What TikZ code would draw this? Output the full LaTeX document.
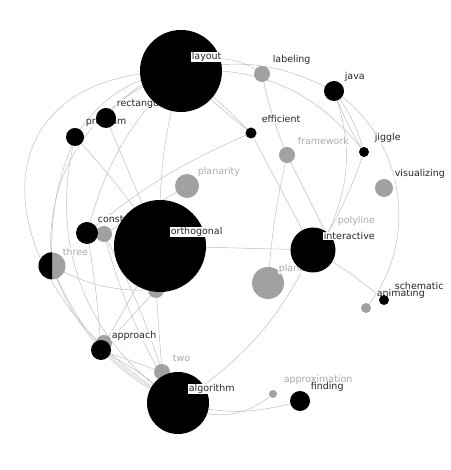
\documentclass[tikz,border=0pt]{standalone}
\usepackage{fontspec}
\setmainfont{DejaVu Sans}
\begin{document}
\begin{tikzpicture}[x=1pt,y=1pt,
  edge/.style={draw=black!25, line width=0.5pt},
  blk/.style={circle, fill=black, inner sep=0pt},
  gry/.style={circle, fill=black!37, inner sep=0pt},
  lbl/.style={anchor=west, fill=white, inner sep=0.6pt, text=black!85, font=\fontsize{9.5}{11}\selectfont},
  lbg/.style={lbl, text=black!33}]
\useasboundingbox (0,0) rectangle (450,470);

% centres
\coordinate (layout) at (181,399);
\coordinate (labeling) at (262,396);
\coordinate (java) at (334,379);
\coordinate (efficient) at (251,337);
\coordinate (jiggle) at (364,318);
\coordinate (framework) at (287,315);
\coordinate (visualizing) at (384,282);
\coordinate (planarity) at (187,284);
\coordinate (rectangular) at (106,352);
\coordinate (program) at (75,333);
\coordinate (constraint) at (87,237);
\coordinate (hid1) at (104,236);
\coordinate (three) at (52,204);
\coordinate (orthogonal) at (160,224);
\coordinate (hid2) at (156,180);
\coordinate (interactive) at (313,220);
\coordinate (polyline) at (327,235);
\coordinate (planar) at (268,187);
\coordinate (hid3) at (104,127);
\coordinate (approach) at (101,120);
\coordinate (two) at (162,98);
\coordinate (algorithm) at (178,67);
\coordinate (approximation) at (273,76);
\coordinate (finding) at (300,69);
\coordinate (schematic) at (384,170);
\coordinate (animating) at (366,162);

% edges
\draw[edge] (layout) to[bend left=35] (labeling);
\draw[edge] (layout) to[bend left=20] (java);
\draw[edge] (layout) to[bend left=28] (jiggle);
\draw[edge] (layout) to[bend left=4] (efficient);
\draw[edge] (layout) to[bend right=3] (efficient);
\draw[edge] (labeling) to[bend right=5] (framework);
\draw[edge] (java) to[bend left=10] (jiggle);
\draw[edge] (java) to[bend right=6] (jiggle);
\draw[edge] (java) to[bend left=22] (polyline);
\draw[edge] (java) to[bend left=48] (animating);
\draw[edge] (jiggle) to[bend left=5] (polyline);
\draw[edge] (framework) -- (polyline);
\draw[edge] (framework) to[bend right=4] (planar);
\draw[edge] (efficient) -- (interactive);
\draw[edge] (efficient) to[bend right=8] (constraint);
\draw[edge] (planarity) -- (hid1);
\draw[edge] (orthogonal) -- (interactive);
\draw[edge] (interactive) to[bend left=5] (schematic);
\draw[edge] (interactive) to[bend left=15] (algorithm);
\draw[edge] (algorithm) to[bend right=35] (approximation);
\draw[edge] (algorithm) to[bend right=15] (finding);
\draw[edge] (layout) to[bend right=20] (rectangular);
\draw[edge] (layout) to[bend right=25] (program);
\draw[edge] (layout) to[bend right=40] (three);
\draw[edge] (layout) to[out=180,in=150,looseness=1.7] (algorithm);
\draw[edge] (layout) to[bend right=15] (constraint);
\draw[edge] (layout) to[bend right=8] (orthogonal);
\draw[edge] (program) to[bend right=35] (algorithm);
\draw[edge] (program) to[bend right=12] (three);
\draw[edge] (program) to[bend left=5] (orthogonal);
\draw[edge] (rectangular) -- (orthogonal);
\draw[edge] (three) to[bend right=20] (algorithm);
\draw[edge] (three) to[bend right=10] (approach);
\draw[edge] (three) to[bend right=15] (hid2);
\draw[edge] (constraint) to[bend left=3] (approach);
\draw[edge] (hid1) to[bend right=8] (algorithm);
\draw[edge] (hid1) to[bend left=5] (two);
\draw[edge] (hid2) -- (approach);
\draw[edge] (hid2) -- (two);
\draw[edge] (orthogonal) -- (approach);
\draw[edge] (approach) to[bend right=10] (algorithm);
\draw[edge] (approach) to[bend left=6] (algorithm);
\draw[edge] (approach) -- (two);

% terms
\node[blk, minimum size=18] (program dot) at (program) {};
\node[lbl] (program txt) at ([shift={(10,14)}]program) {program};
\node[blk, minimum size=20] (rectangular dot) at (rectangular) {};
\node[lbl] (rectangular txt) at ([shift={(10,14)}]rectangular) {rectangular};
\node[blk, minimum size=82] (layout dot) at (layout) {};
\node[lbl] (layout txt) at ([shift={(10,14)}]layout) {layout};
\node[gry, minimum size=16] (labeling dot) at (labeling) {};
\node[lbl] (labeling txt) at ([shift={(10,14)}]labeling) {labeling};
\node[blk, minimum size=20] (java dot) at (java) {};
\node[lbl] (java txt) at ([shift={(10,14)}]java) {java};
\node[blk, minimum size=11] (efficient dot) at (efficient) {};
\node[lbl] (efficient txt) at ([shift={(10,14)}]efficient) {efficient};
\node[blk, minimum size=10] (jiggle dot) at (jiggle) {};
\node[lbl] (jiggle txt) at ([shift={(10,14)}]jiggle) {jiggle};
\node[gry, minimum size=16] (framework dot) at (framework) {};
\node[lbg] (framework txt) at ([shift={(10,14)}]framework) {framework};
\node[gry, minimum size=18] (visualizing dot) at (visualizing) {};
\node[lbl] (visualizing txt) at ([shift={(10,14)}]visualizing) {visualizing};
\node[gry, minimum size=24] (planarity dot) at (planarity) {};
\node[lbg] (planarity txt) at ([shift={(10,14)}]planarity) {planarity};
\node[gry, minimum size=16] (hid1 dot) at (hid1) {};
\node[blk, minimum size=22] (constraint dot) at (constraint) {};
\node[lbl] (constraint txt) at ([shift={(10,14)}]constraint) {constraint};
\node[gry, minimum size=27] (three dot) at (three) {};
\fill (three dot.north) arc[start angle=90, end angle=270, radius=13.5] -- cycle;
\node[lbg] (three txt) at ([shift={(10,14)}]three) {three};
\node[gry, minimum size=16] (hid2 dot) at (hid2) {};
\node[blk, minimum size=92] (orthogonal dot) at (orthogonal) {};
\node[lbl] (orthogonal txt) at ([shift={(10,14)}]orthogonal) {orthogonal};
\node[lbg] (polyline txt) at ([shift={(10,14)}]polyline) {polyline};
\node[gry, minimum size=32] (planar dot) at (planar) {};
\node[lbg] (planar txt) at ([shift={(10,14)}]planar) {planar};
\node[blk, minimum size=45] (interactive dot) at (interactive) {};
\node[lbl] (interactive txt) at ([shift={(10,14)}]interactive) {interactive};
\node[gry, minimum size=16] (hid3 dot) at (hid3) {};
\node[blk, minimum size=20] (approach dot) at (approach) {};
\node[lbl] (approach txt) at ([shift={(10,14)}]approach) {approach};
\node[gry, minimum size=16] (two dot) at (two) {};
\node[lbg] (two txt) at ([shift={(10,14)}]two) {two};
\node[blk, minimum size=62] (algorithm dot) at (algorithm) {};
\node[lbl] (algorithm txt) at ([shift={(10,14)}]algorithm) {algorithm};
\node[gry, minimum size=8] (approximation dot) at (approximation) {};
\node[lbg] (approximation txt) at ([shift={(10,14)}]approximation) {approximation};
\node[blk, minimum size=20] (finding dot) at (finding) {};
\node[lbl] (finding txt) at ([shift={(10,14)}]finding) {finding};
\node[gry, minimum size=10] (animating dot) at (animating) {};
\node[lbl] (animating txt) at ([shift={(10,14)}]animating) {animating};
\node[blk, minimum size=10] (schematic dot) at (schematic) {};
\node[lbl] (schematic txt) at ([shift={(10,14)}]schematic) {schematic};
\end{tikzpicture}
\end{document}
